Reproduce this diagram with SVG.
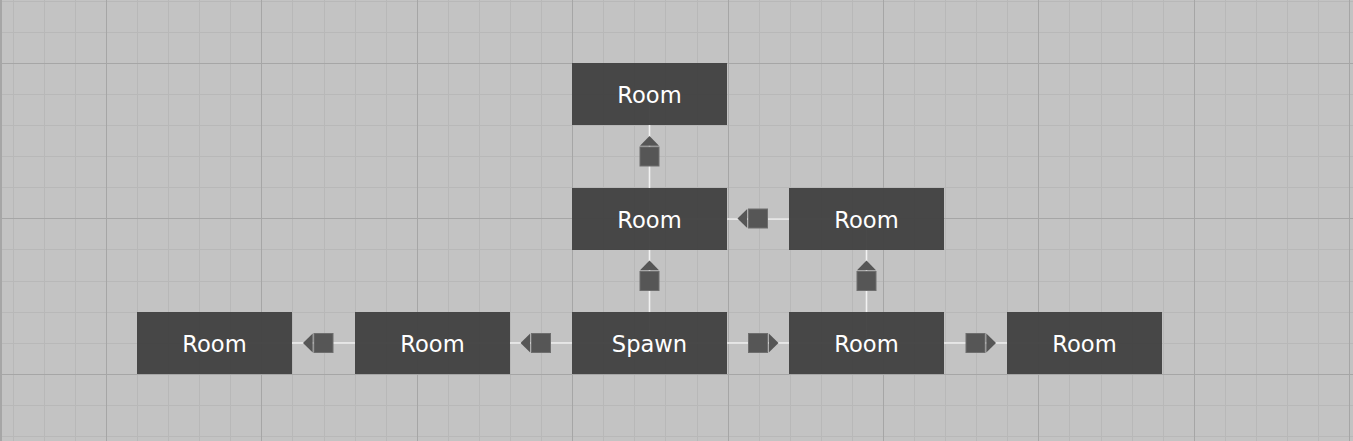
<svg xmlns="http://www.w3.org/2000/svg" xmlns:xlink="http://www.w3.org/1999/xlink" width="1353" height="441" viewBox="0 0 1353 441">
<style>
.mi{stroke:#b8b8b8;stroke-width:1}
.ma{stroke:#a6a6a6;stroke-width:1}
.edge{stroke:#f2f2f2;stroke-width:1.6;fill:none}
.node rect{fill:#424242;fill-opacity:0.96}
.node text{fill:#ffffff;font-family:"DejaVu Sans","Noto Sans",sans-serif;font-size:22.6px;text-anchor:middle;dominant-baseline:central}
.sq{fill:#565656;stroke:#6e6e6e;stroke-width:1}
.tri{fill:#565656}
</style>
<defs>
<g id="m">
<rect class="sq" x="-9.5" y="-9.5" width="19" height="19"/>
<polygon class="tri" points="0,-20.5 9.5,-10.8 -9.5,-10.8"/>
</g>
</defs>
<rect width="1353" height="441" fill="#c3c3c3"/>
<g id="grid">
<g class="mi">
<line x1="13.5" y1="0" x2="13.5" y2="441"/><line x1="44.5" y1="0" x2="44.5" y2="441"/><line x1="75.5" y1="0" x2="75.5" y2="441"/>
<line x1="137.5" y1="0" x2="137.5" y2="441"/><line x1="168.5" y1="0" x2="168.5" y2="441"/><line x1="199.5" y1="0" x2="199.5" y2="441"/><line x1="230.5" y1="0" x2="230.5" y2="441"/>
<line x1="292.5" y1="0" x2="292.5" y2="441"/><line x1="324.5" y1="0" x2="324.5" y2="441"/><line x1="355.5" y1="0" x2="355.5" y2="441"/><line x1="386.5" y1="0" x2="386.5" y2="441"/>
<line x1="448.5" y1="0" x2="448.5" y2="441"/><line x1="479.5" y1="0" x2="479.5" y2="441"/><line x1="510.5" y1="0" x2="510.5" y2="441"/><line x1="541.5" y1="0" x2="541.5" y2="441"/>
<line x1="603.5" y1="0" x2="603.5" y2="441"/><line x1="634.5" y1="0" x2="634.5" y2="441"/><line x1="665.5" y1="0" x2="665.5" y2="441"/><line x1="697.5" y1="0" x2="697.5" y2="441"/>
<line x1="759.5" y1="0" x2="759.5" y2="441"/><line x1="790.5" y1="0" x2="790.5" y2="441"/><line x1="821.5" y1="0" x2="821.5" y2="441"/><line x1="852.5" y1="0" x2="852.5" y2="441"/>
<line x1="914.5" y1="0" x2="914.5" y2="441"/><line x1="945.5" y1="0" x2="945.5" y2="441"/><line x1="976.5" y1="0" x2="976.5" y2="441"/><line x1="1007.5" y1="0" x2="1007.5" y2="441"/>
<line x1="1069.5" y1="0" x2="1069.5" y2="441"/><line x1="1101.5" y1="0" x2="1101.5" y2="441"/><line x1="1132.5" y1="0" x2="1132.5" y2="441"/><line x1="1163.5" y1="0" x2="1163.5" y2="441"/>
<line x1="1225.5" y1="0" x2="1225.5" y2="441"/><line x1="1256.5" y1="0" x2="1256.5" y2="441"/><line x1="1287.5" y1="0" x2="1287.5" y2="441"/><line x1="1318.5" y1="0" x2="1318.5" y2="441"/>
<line x1="0" y1="1.5" x2="1353" y2="1.5"/><line x1="0" y1="32.5" x2="1353" y2="32.5"/>
<line x1="0" y1="94.5" x2="1353" y2="94.5"/><line x1="0" y1="125.5" x2="1353" y2="125.5"/><line x1="0" y1="156.5" x2="1353" y2="156.5"/><line x1="0" y1="187.5" x2="1353" y2="187.5"/>
<line x1="0" y1="249.5" x2="1353" y2="249.5"/><line x1="0" y1="281.5" x2="1353" y2="281.5"/><line x1="0" y1="312.5" x2="1353" y2="312.5"/><line x1="0" y1="343.5" x2="1353" y2="343.5"/>
<line x1="0" y1="405.5" x2="1353" y2="405.5"/><line x1="0" y1="436.5" x2="1353" y2="436.5"/>
</g>
<g class="ma">
<line x1="1" y1="0" x2="1" y2="441" style="stroke-width:2"/>
<line x1="106.5" y1="0" x2="106.5" y2="441"/><line x1="261.5" y1="0" x2="261.5" y2="441"/><line x1="417.5" y1="0" x2="417.5" y2="441"/><line x1="572.5" y1="0" x2="572.5" y2="441"/>
<line x1="728.5" y1="0" x2="728.5" y2="441"/><line x1="883.5" y1="0" x2="883.5" y2="441"/><line x1="1038.5" y1="0" x2="1038.5" y2="441"/><line x1="1194.5" y1="0" x2="1194.5" y2="441"/><line x1="1349.5" y1="0" x2="1349.5" y2="441"/>
<line x1="0" y1="63.5" x2="1353" y2="63.5"/><line x1="0" y1="218.5" x2="1353" y2="218.5"/><line x1="0" y1="374.5" x2="1353" y2="374.5"/>
</g>
</g>
<g id="connectors">
<line class="edge" x1="649.5" y1="343" x2="432.5" y2="343"/>
<line class="edge" x1="432.5" y1="343" x2="214.5" y2="343"/>
<line class="edge" x1="649.5" y1="343" x2="866.5" y2="343"/>
<line class="edge" x1="866.5" y1="343" x2="1084.5" y2="343"/>
<line class="edge" x1="649.5" y1="343" x2="649.5" y2="219"/>
<line class="edge" x1="866.5" y1="343" x2="866.5" y2="219"/>
<line class="edge" x1="866.5" y1="219" x2="649.5" y2="219"/>
<line class="edge" x1="649.5" y1="219" x2="649.5" y2="94"/>
<use xlink:href="#m" transform="translate(541 343) rotate(-90)"/>
<use xlink:href="#m" transform="translate(323.5 343) rotate(-90)"/>
<use xlink:href="#m" transform="translate(758 343) rotate(90)"/>
<use xlink:href="#m" transform="translate(975.5 343) rotate(90)"/>
<use xlink:href="#m" transform="translate(649.5 281)"/>
<use xlink:href="#m" transform="translate(866.5 281)"/>
<use xlink:href="#m" transform="translate(758 218.5) rotate(-90)"/>
<use xlink:href="#m" transform="translate(649.5 156.5)"/>
</g>
<g id="node-top" class="node"><rect x="572" y="63" width="155" height="62"/><text x="649.5" y="95">Room</text></g>
<g id="node-mid" class="node"><rect x="572" y="188" width="155" height="62"/><text x="649.5" y="220">Room</text></g>
<g id="node-midright" class="node"><rect x="789" y="188" width="155" height="62"/><text x="866.5" y="220">Room</text></g>
<g id="node-farleft" class="node"><rect x="137" y="312" width="155" height="62"/><text x="214.5" y="344">Room</text></g>
<g id="node-left" class="node"><rect x="355" y="312" width="155" height="62"/><text x="432.5" y="344">Room</text></g>
<g id="node-spawn" class="node"><rect x="572" y="312" width="155" height="62"/><text x="649.5" y="344">Spawn</text></g>
<g id="node-right" class="node"><rect x="789" y="312" width="155" height="62"/><text x="866.5" y="344">Room</text></g>
<g id="node-farright" class="node"><rect x="1007" y="312" width="155" height="62"/><text x="1084.5" y="344">Room</text></g>
</svg>
